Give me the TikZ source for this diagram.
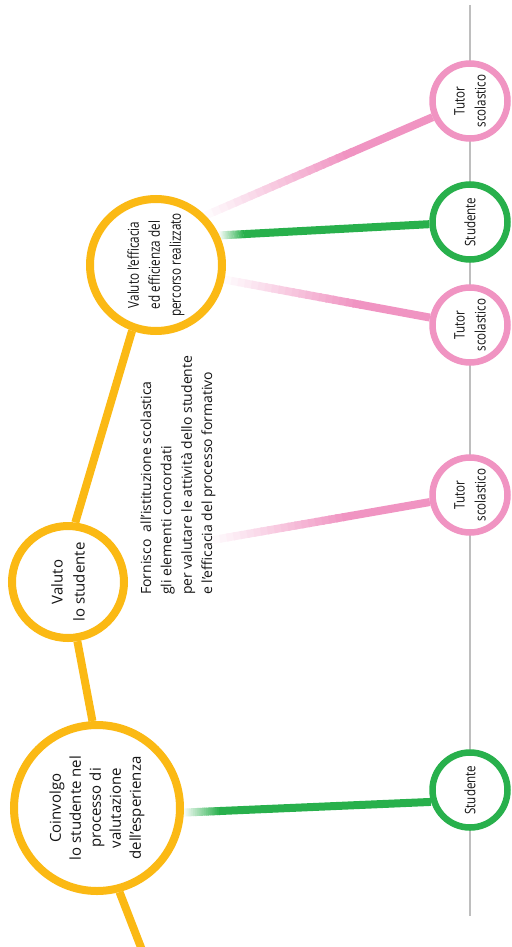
\documentclass[tikz,border=0pt]{standalone}
\usepackage{fontspec}
\setmainfont{Open Sans}
\newfontfamily\narrowfont[FakeStretch=0.78]{Open Sans}
\newfontfamily\tightfont[FakeStretch=0.8]{Open Sans}
\usetikzlibrary{calc}
\definecolor{yellowc}{RGB}{251,185,20}
\definecolor{pinkc}{RGB}{240,148,194}
\definecolor{greenc}{RGB}{40,176,76}
\definecolor{greyc}{RGB}{190,190,190}
\definecolor{textc}{RGB}{20,20,20}
\pgfdeclarelayer{bg}
\pgfsetlayers{bg,main}
% thick line that fades in from white over the first part (#4) of its length
\newcommand\fadeline[4]{%
	\draw[conn, #1] ($(#2)!#4!(#3)$) -- (#3);
	\foreach \i [evaluate=\i as \p using int(\i*5)] in {1,...,20}
		\draw[conn, #1!\p] ($(#2)!{(\i-1)*#4/20}!(#3)$) -- ($(#2)!{(\i+0.3)*#4/20}!(#3)$);
}

\begin{document}
\begin{tikzpicture}[x=1pt, y=-1pt,
		ycirc/.style={circle, draw=yellowc, line width=8pt, fill=white, inner sep=0pt},
		pcirc/.style={circle, draw=pinkc, line width=6.5pt, fill=white, inner sep=0pt, minimum size=75pt},
		gcirc/.style={circle, draw=greenc, line width=6.5pt, fill=white, inner sep=0pt, minimum size=75pt},
		txt/.style={rotate=90, align=center, text=textc, inner sep=0pt},
		smalltxt/.style={txt, font={\tightfont\fontsize{14.5}{21}\selectfont}},
		conn/.style={line width=8pt},
		ylink/.style={conn, yellowc}]
			%%%%% START %%%%%
			
			\useasboundingbox (0,0) rectangle (511,947);
			
			% yellow path
			\node[ycirc, minimum size=166pt] (co) at (97,808) {};
			\node[ycirc, minimum size=112pt] (vs) at (68,582) {};
			\node[ycirc, minimum size=132pt] (ve) at (156,265) {};
			
			\node[txt, font={\fontsize{15}{20}\selectfont}] (co-t) at (co) {Coinvolgo\\lo studente nel\\processo di\\valutazione\\dell’esperienza};
			\node[txt, font={\fontsize{15}{22}\selectfont}] (vs-t) at (vs) {Valuto\\lo studente};
			\node[txt, font={\narrowfont\fontsize{15}{21}\selectfont}] (ve-t) at (ve) {Valuto l’efficacia\\ed efficienza del\\percorso realizzato};
			
			\node[txt, align=left, anchor=west, font={\fontsize{14}{20.3}\selectfont}] (fo) at (178,595) {Fornisco\ \ all’istituzione scolastica\\gli elementi concordati\\per valutare le attività dello studente\\e l’efficacia del processo formativo};
			
			% right column
			\node[pcirc] (t1) at (470,101) {};
			\node[gcirc] (s1) at (470,222) {};
			\node[pcirc] (t2) at (470,325) {};
			\node[pcirc] (t3) at (470,495) {};
			\node[gcirc] (s2) at (470,790) {};
			
			\node[smalltxt] (t1-t) at (t1) {Tutor\\scolastico};
			\node[smalltxt] (s1-t) at (s1) {Studente};
			\node[smalltxt] (t2-t) at (t2) {Tutor\\scolastico};
			\node[smalltxt] (t3-t) at (t3) {Tutor\\scolastico};
			\node[smalltxt] (s2-t) at (s2) {Studente};
			
			\coordinate (gtop) at (470,5);
			\coordinate (gbot) at (470,916);
			\coordinate (yend) at (142,950);
			\coordinate (fo-e) at (213,540);
			
			\draw[ylink] (co.-75) -- (yend);
			\draw[ylink] (vs.-81) -- (co.93);
			\draw[ylink] (vs.83) -- (ve.250);
			
			\begin{pgfonlayer}{bg}
				\draw[line width=1.2pt, greyc] (gtop) -- (gbot);
				
				\fadeline{pinkc}{ve.45}{t1}{0.55}
				\fadeline{greenc}{ve.25}{s1}{0.1}
				\fadeline{pinkc}{ve.-12}{t2}{0.55}
				\fadeline{pinkc}{fo-e}{t3}{0.53}
				\fadeline{greenc}{co.-3}{s2.197}{0.15}
			\end{pgfonlayer}
			
			%%%%% END %%%%%
\end{tikzpicture}
\end{document}
